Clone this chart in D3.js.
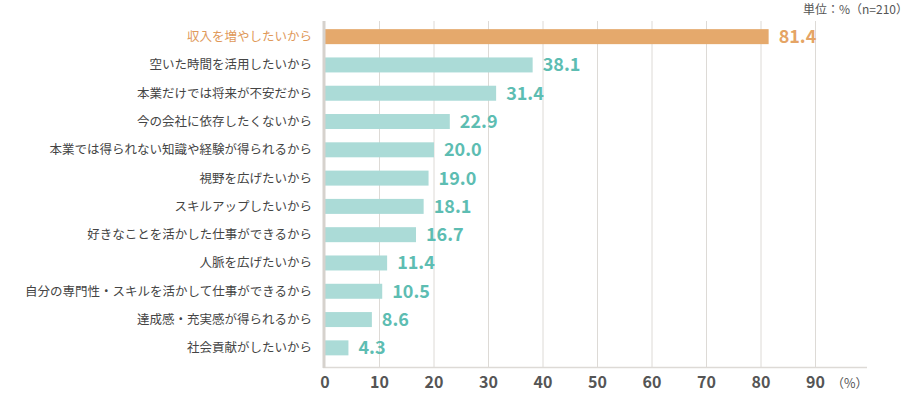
<!DOCTYPE html>
<html><head><meta charset="utf-8">
<script src="https://cdn.jsdelivr.net/npm/d3@7"></script>
<style>
html,body{margin:0;padding:0;background:#fff;}
svg{display:block;font-family:"Noto Sans CJK JP","Noto Sans",sans-serif;}
</style></head>
<body><svg id="c" width="910" height="394"></svg>
<script>
const categories = [
  "収入を増やしたいから",
  "空いた時間を活用したいから",
  "本業だけでは将来が不安だから",
  "今の会社に依存したくないから",
  "本業では得られない知識や経験が得られるから",
  "視野を広げたいから",
  "スキルアップしたいから",
  "好きなことを活かした仕事ができるから",
  "人脈を広げたいから",
  "自分の専門性・スキルを活かして仕事ができるから",
  "達成感・充実感が得られるから",
  "社会貢献がしたいから"
];
const values = [81.4, 38.1, 31.4, 22.9, 20.0, 19.0, 18.1, 16.7, 11.4, 10.5, 8.6, 4.3];
const xTicks = [0, 10, 20, 30, 40, 50, 60, 70, 80, 90];
const unitLabel = "単位：%（n=210）";
const axisUnit = "（%）";

const svg = d3.select("#c");
const x = d3.scaleLinear().domain([0, 90]).range([325, 815.5]);
const y = d3.scaleBand().domain(categories).range([22.5, 362]).paddingInner(0.47).paddingOuter(0.235);
const hi = c => c === categories[0];

// gridlines
svg.append("g").selectAll("line").data(xTicks.filter(d => d > 0)).join("line")
  .attr("x1", d => x(d)).attr("x2", d => x(d))
  .attr("y1", 21).attr("y2", 368)
  .attr("stroke", "#dddad6").attr("stroke-width", 1);

// bottom axis line
svg.append("line").attr("x1", 323).attr("x2", 867).attr("y1", 367.5).attr("y2", 367.5)
  .attr("stroke", "#dddad6").attr("stroke-width", 1.5);

// bars
svg.append("g").selectAll("rect").data(categories).join("rect")
  .attr("x", x(0)).attr("y", d => y(d))
  .attr("width", (d, i) => x(values[i]) - x(0))
  .attr("height", y.bandwidth())
  .attr("fill", d => hi(d) ? "#e5a96c" : "#abdbd7");

// left axis line
svg.append("line").attr("x1", 324).attr("x2", 324).attr("y1", 21).attr("y2", 368)
  .attr("stroke", "#d6d2cd").attr("stroke-width", 3);

// category labels
svg.append("g").selectAll("text").data(categories).join("text")
  .attr("x", 312).attr("y", d => y(d) + y.bandwidth() / 2)
  .attr("dy", "0.36em").attr("text-anchor", "end")
  .attr("font-size", 12.5).attr("fill", d => hi(d) ? "#e0995a" : "#444")
  .text(d => d);

// value labels
svg.append("g").selectAll("text").data(categories).join("text")
  .attr("x", (d, i) => x(values[i]) + 10).attr("y", d => y(d) + y.bandwidth() / 2)
  .attr("dy", "0.36em")
  .attr("font-size", 18).attr("font-weight", "bold")
  .attr("fill", d => hi(d) ? "#e5a465" : "#5dbdb2")
  .text((d, i) => values[i].toFixed(1));

// x tick labels
svg.append("g").selectAll("text").data(xTicks).join("text")
  .attr("x", d => x(d)).attr("y", 388).attr("text-anchor", "middle")
  .attr("font-size", 16).attr("font-weight", "bold").attr("fill", "#555")
  .text(d => d);

svg.append("text").attr("x", 868).attr("y", 388).attr("text-anchor", "end")
  .attr("font-size", 12.5).attr("fill", "#555").text(axisUnit);

svg.append("text").attr("x", 908).attr("y", 14).attr("text-anchor", "end")
  .attr("font-size", 12).attr("fill", "#555").text(unitLabel);
</script>
</body></html>
